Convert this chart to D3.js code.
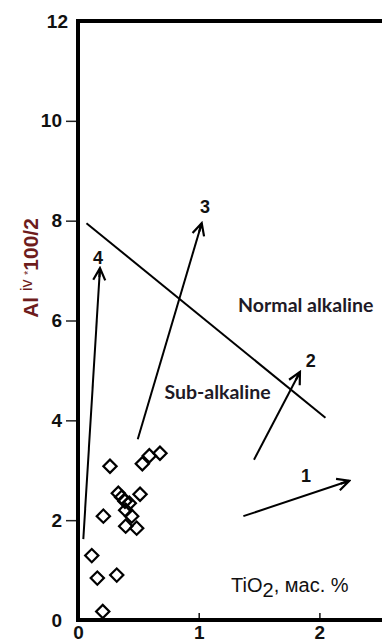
<!DOCTYPE html>
<html>
<head>
<meta charset="utf-8">
<script src="https://cdn.jsdelivr.net/npm/d3@7/dist/d3.min.js"></script>
<style>
  html, body { margin: 0; padding: 0; background: #fff; }
  svg { display: block; }
</style>
</head>
<body>
<script>
// Samples: TiO2 (wt %) vs Al(iv)*100/2
const tio2 = [0.265, 0.533, 0.591, 0.679, 0.334, 0.362, 0.389, 0.514, 0.425,
              0.395, 0.445, 0.210, 0.395, 0.486, 0.114, 0.160, 0.321, 0.205];
const aliv = [3.08, 3.13, 3.29, 3.34, 2.54, 2.46, 2.38, 2.52, 2.34,
              2.20, 2.08, 2.08, 1.88, 1.84, 1.29, 0.84, 0.90, 0.17];

// Boundary between sub-alkaline and normal-alkaline fields
const boundaryX = [0.07, 2.05];
const boundaryY = [7.95, 4.05];

// Trend arrows: start -> tip, with their numbers
const arrowIds = ["1", "2", "3", "4"];
const arrowX0 = [1.37, 1.458, 0.495, 0.044];
const arrowY0 = [2.08, 3.21, 3.62, 1.62];
const arrowX1 = [2.248, 1.839, 1.025, 0.182];
const arrowY1 = [2.79, 4.97, 7.95, 7.05];
const arrowLabelX = [1.889, 1.928, 1.052, 0.166];
const arrowLabelY = [2.90, 5.19, 8.29, 7.27];

// Field names
const fieldNames = ["Normal alkaline", "Sub-alkaline"];
const fieldX = [1.887, 1.156];
const fieldY = [6.31, 4.57];

const xTicks = [0, 1, 2];
const yTicks = [0, 2, 4, 6, 8, 10, 12];

const W = 382, H = 642;
const svg = d3.select("body").append("svg").attr("width", W).attr("height", H);

const x = d3.scaleLinear().domain([0, 2.6]).range([78, 78 + 2.6 * 120.7]);
const y = d3.scaleLinear().domain([0, 12]).range([620, 21]);

const tickFont = "'Liberation Sans', Arial, sans-serif";

// Y axis
const yAxis = svg.append("g")
  .attr("transform", `translate(${x(0)},0)`)
  .call(d3.axisLeft(y).tickValues(yTicks).tickSize(12).tickPadding(4).tickFormat(d3.format("d")));
yAxis.select(".domain").remove();
yAxis.selectAll(".tick line").attr("stroke", "#222").attr("stroke-width", 1.5)
  .attr("display", d => (d === 0 || d === 12) ? "none" : null);
yAxis.selectAll(".tick text")
  .attr("font-family", tickFont).attr("font-size", 19).attr("font-weight", "bold")
  .attr("fill", "#111")
  .attr("x", d => d === 12 ? -10 : -16);

// X axis (ticks point inward)
const xAxis = svg.append("g")
  .attr("transform", `translate(0,${y(0)})`)
  .call(d3.axisBottom(x).tickValues(xTicks).tickSizeInner(-7).tickSizeOuter(0).tickPadding(6).tickFormat(d3.format("d")));
xAxis.select(".domain").remove();
xAxis.selectAll(".tick line").attr("stroke", "#111").attr("stroke-width", 1.5)
  .attr("display", d => d === 0 ? "none" : null);
xAxis.selectAll(".tick text")
  .attr("font-family", tickFont).attr("font-size", 19).attr("font-weight", "bold")
  .attr("fill", "#111");

// Frame: left, bottom and top edges
const frame = svg.append("g").attr("stroke", "#000").attr("stroke-width", 4).attr("fill", "none");
frame.append("path")
  .attr("d", `M${x(2.6)},${y(12)} H${x(0)} V${y(0)} H${x(2.6)}`)
  .attr("stroke-linejoin", "miter");

// Boundary line
svg.append("line")
  .attr("x1", x(boundaryX[0])).attr("y1", y(boundaryY[0]))
  .attr("x2", x(boundaryX[1])).attr("y2", y(boundaryY[1]))
  .attr("stroke", "#000").attr("stroke-width", 2);

// Arrow head marker
svg.append("defs").append("marker")
  .attr("id", "head")
  .attr("viewBox", "-14 -8 16 16")
  .attr("refX", 0).attr("refY", 0)
  .attr("markerWidth", 16).attr("markerHeight", 16)
  .attr("markerUnits", "userSpaceOnUse")
  .attr("orient", "auto")
  .append("path")
  .attr("d", "M-12,-6 L0,0 L-12,6 M0,0 L-9,0")
  .attr("fill", "none").attr("stroke", "#000").attr("stroke-width", 2.2)
  .attr("stroke-linejoin", "miter");

const arrows = arrowIds.map((id, i) => ({
  id, x0: arrowX0[i], y0: arrowY0[i], x1: arrowX1[i], y1: arrowY1[i],
  lx: arrowLabelX[i], ly: arrowLabelY[i]
}));

svg.append("g").selectAll("line").data(arrows).join("line")
  .attr("x1", d => x(d.x0)).attr("y1", d => y(d.y0))
  .attr("x2", d => x(d.x1)).attr("y2", d => y(d.y1))
  .attr("stroke", "#000").attr("stroke-width", 2)
  .attr("marker-end", "url(#head)");

svg.append("g").selectAll("text").data(arrows).join("text")
  .attr("x", d => x(d.lx)).attr("y", d => y(d.ly))
  .attr("dy", "0.36em")
  .attr("text-anchor", "middle")
  .attr("font-family", tickFont).attr("font-size", 18).attr("font-weight", "bold")
  .attr("fill", "#111")
  .text(d => d.id);

// Field labels
svg.append("g").selectAll("text").data(fieldNames).join("text")
  .attr("x", (d, i) => x(fieldX[i])).attr("y", (d, i) => y(fieldY[i]))
  .attr("dy", "0.36em")
  .attr("text-anchor", "middle")
  .attr("font-family", "Lato, 'Open Sans', sans-serif").attr("font-size", 19.5).attr("font-weight", "bold")
  .attr("fill", "#1e1a26")
  .text(d => d);

// Sample points: open diamonds
const diamond = d3.symbol().type(d3.symbolSquare).size(88);
svg.append("g").selectAll("path").data(tio2.map((t, i) => [t, aliv[i]])).join("path")
  .attr("d", diamond)
  .attr("transform", d => `translate(${x(d[0])},${y(d[1])}) rotate(45)`)
  .attr("fill", "none").attr("stroke", "#000").attr("stroke-width", 2.2);

// X axis title
const xt = svg.append("text")
  .attr("x", x(1.268)).attr("y", y(0.57))
  .attr("font-family", tickFont).attr("font-size", 20)
  .attr("fill", "#111");
xt.append("tspan").text("TiO");
xt.append("tspan").attr("dy", 5).text("2");
xt.append("tspan").attr("dy", -5).text(", мас. %");

// Y axis title
const yt = svg.append("text")
  .attr("transform", "translate(38,268) rotate(-90)")
  .attr("text-anchor", "middle")
  .attr("font-family", tickFont).attr("font-size", 21).attr("font-weight", "bold")
  .attr("fill", "#6e1c1c");
yt.append("tspan").text("Al ");
yt.append("tspan").attr("dy", -6).attr("font-size", 16).attr("font-weight", "normal").text("iv ");
yt.append("tspan").attr("font-size", 11).attr("font-weight", "normal").text("*");
yt.append("tspan").attr("dy", 6).text("100/2");
</script>
</body>
</html>
